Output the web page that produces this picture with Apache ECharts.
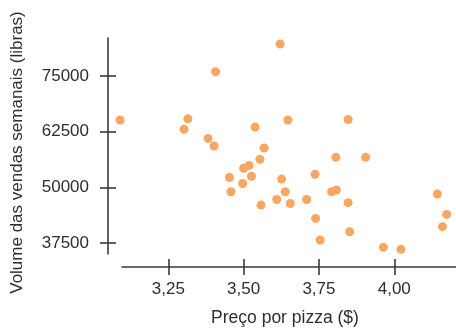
<!DOCTYPE html>
<html>
<head>
<meta charset="utf-8">
<script src="https://cdn.jsdelivr.net/npm/echarts@6/dist/echarts.min.js"></script>
<style>
  html, body { margin: 0; padding: 0; background: #fff; }
  #chart { width: 456px; height: 329px; }
</style>
</head>
<body>
<div id="chart"></div>
<script>
// Weekly pizza sales volume against price per pizza
const prices = [
  3.090, 3.315, 3.302, 3.382, 3.402, 3.407, 3.621, 3.538, 3.647, 3.568,
  3.554, 3.806, 3.905, 3.847, 3.500, 3.518, 3.526, 3.453, 3.497, 3.458,
  3.626, 3.638, 3.610, 3.655, 3.558, 3.709, 3.737, 3.792, 3.808, 3.847,
  3.739, 3.754, 3.852, 3.964, 4.022, 4.143, 4.174, 4.160
];
const volumes = [
  65150, 65400, 63050, 61000, 59300, 76000, 82250, 63550, 65150, 58850,
  56300, 56750, 56750, 65250, 54300, 54900, 52500, 52200, 50850, 49000,
  51850, 49000, 47250, 46350, 46000, 47250, 52950, 49000, 49400, 46550,
  43000, 38150, 40000, 36500, 36050, 48500, 43900, 41150
];
const xTicks = [3.25, 3.5, 3.75, 4.0];
const yTicks = [37500, 50000, 62500, 75000];

const FONT = "'Liberation Sans', Arial, sans-serif";
const INK = '#2e2e2e';
const LINE = { lineStyle: { color: '#3a3a3a', width: 1.6 } };
const fmtPrice = v => Number(v).toFixed(2).replace('.', ',');
const fmtVolume = v => String(Math.round(v));

const chart = echarts.init(document.getElementById('chart'), null, { renderer: 'canvas' });

chart.setOption({
  animation: false,
  backgroundColor: '#ffffff',
  title: {
    text: 'Preço por pizza ($)',
    left: 280, top: 304,
    textAlign: 'center',
    textStyle: { fontFamily: FONT, fontSize: 17.5, fontWeight: 'normal', color: INK }
  },
  grid: [
    // data area
    { left: 108, right: 0, top: 38, bottom: 62 },
    // horizontal axis line
    { left: 122, right: 0, top: 38, bottom: 62 },
    // vertical axis line
    { left: 108, right: 0, top: 38, bottom: 75 }
  ],
  xAxis: [
    { gridIndex: 0, type: 'value', min: 3.0499, max: 4.2049,
      axisLine: { show: false }, axisTick: { show: false },
      axisLabel: { show: false }, splitLine: { show: false } },
    { gridIndex: 1, type: 'value', min: 3.0963, max: 4.2049, position: 'bottom',
      axisLine: LINE,
      axisTick: { show: true, inside: false, length: 8, customValues: xTicks,
                  lineStyle: { color: '#3a3a3a', width: 1.6 } },
      axisLabel: { show: true, customValues: xTicks, margin: 14, formatter: fmtPrice,
                   fontFamily: FONT, fontSize: 17, color: INK },
      splitLine: { show: false } },
    { gridIndex: 1, type: 'value', min: 3.0963, max: 4.2049, position: 'bottom',
      axisLine: { show: false },
      axisTick: { show: true, inside: true, length: 8, customValues: xTicks,
                  lineStyle: { color: '#3a3a3a', width: 1.6 } },
      axisLabel: { show: false }, splitLine: { show: false } },
    { gridIndex: 2, type: 'value', min: 0, max: 1, show: false }
  ],
  yAxis: [
    { gridIndex: 0, type: 'value', min: 32070, max: 83595,
      name: 'Volume das vendas semanais (libras)',
      nameLocation: 'middle', nameRotate: 90, nameGap: 82,
      nameTextStyle: { fontFamily: FONT, fontSize: 17, color: INK },
      axisLine: { show: false }, axisTick: { show: false },
      axisLabel: { show: false }, splitLine: { show: false } },
    { gridIndex: 1, type: 'value', min: 0, max: 1, show: false },
    { gridIndex: 2, type: 'value', min: 34995, max: 83595, position: 'left',
      axisLine: LINE,
      axisTick: { show: true, inside: false, length: 8, customValues: yTicks,
                  lineStyle: { color: '#3a3a3a', width: 1.6 } },
      axisLabel: { show: true, customValues: yTicks, margin: 19, formatter: fmtVolume,
                   fontFamily: FONT, fontSize: 17, color: INK },
      splitLine: { show: false } },
    { gridIndex: 2, type: 'value', min: 34995, max: 83595, position: 'left',
      axisLine: { show: false },
      axisTick: { show: true, inside: true, length: 8, customValues: yTicks,
                  lineStyle: { color: '#3a3a3a', width: 1.6 } },
      axisLabel: { show: false }, splitLine: { show: false } }
  ],
  series: [{
    type: 'scatter',
    xAxisIndex: 0,
    yAxisIndex: 0,
    symbol: 'circle',
    symbolSize: 9,
    itemStyle: { color: '#f7a762', opacity: 1 },
    data: prices.map((p, i) => [p, volumes[i]])
  }]
});
</script>
</body>
</html>
